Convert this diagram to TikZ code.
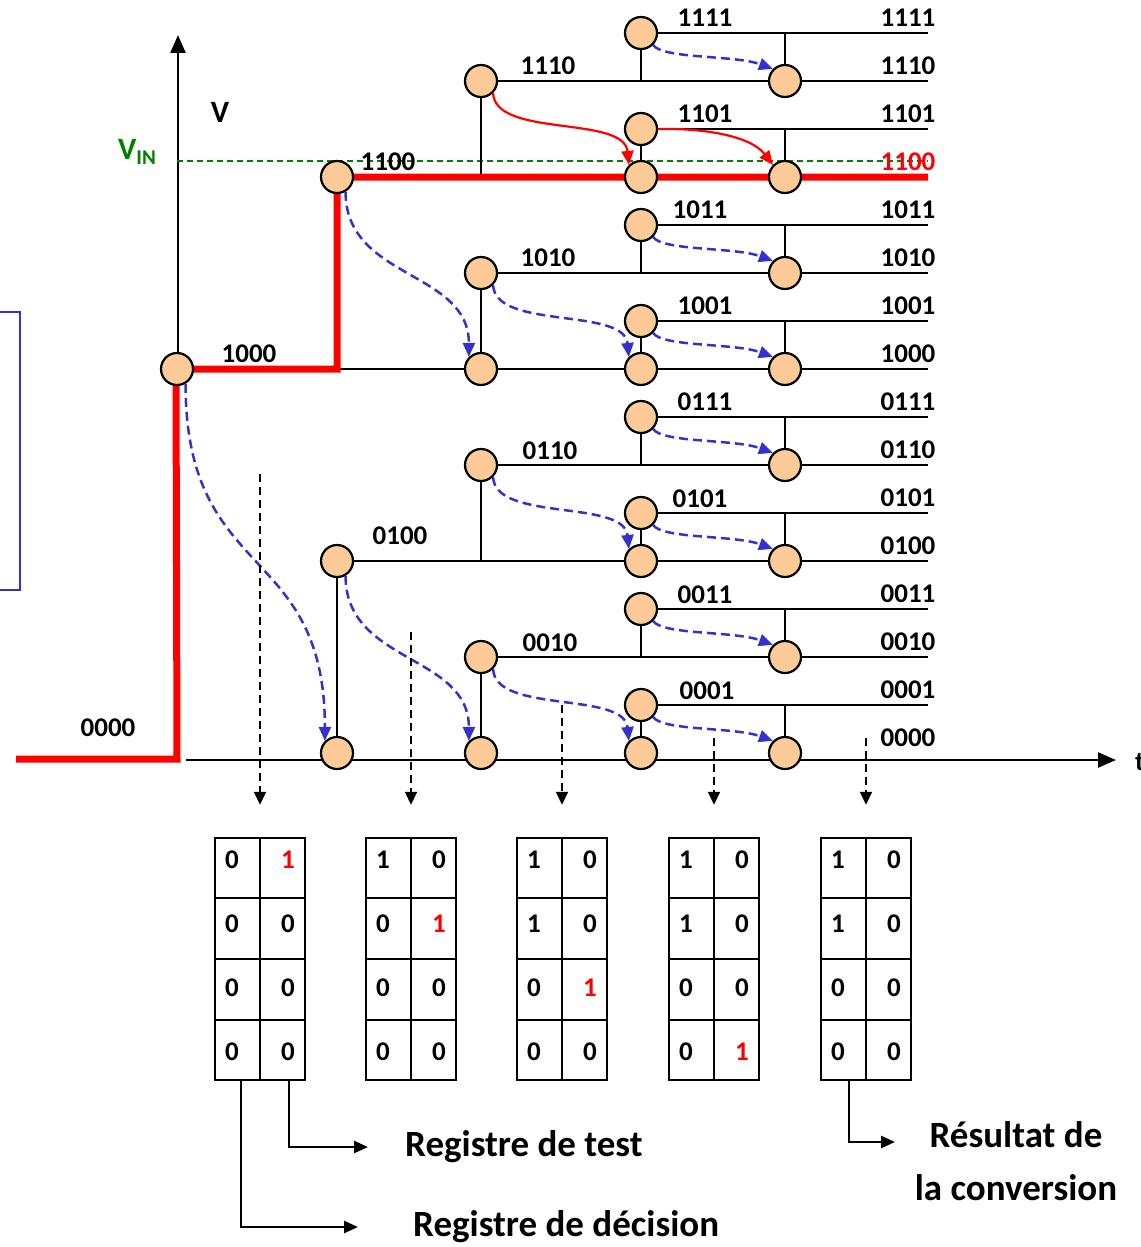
\documentclass[tikz,border=0pt]{standalone}
\usepackage{fontspec}
\setmainfont{Carlito}
\usetikzlibrary{arrows.meta,calc,backgrounds}
\definecolor{Peach}{RGB}{251,202,150}
\definecolor{StepRed}{RGB}{255,0,0}
\definecolor{TryBlue}{RGB}{51,51,204}
\definecolor{VinGreen}{RGB}{0,128,0}
\newcommand{\hotbit}{\textcolor{StepRed}{1}}
\tikzset{
  >=Triangle,
  wire/.style={draw=black,line width=2.5pt},
  stage/.style={circle,draw=black,line width=2.2pt,fill=Peach,minimum size=32pt,inner sep=0pt},
  lbl/.style={font=\fontsize{27}{30}\selectfont\bfseries,inner sep=0pt},
  redpath/.style={draw=StepRed,line width=7pt},
  try/.style={-{Triangle[length=14pt,width=12pt]},draw=TryBlue,line width=2.5pt,dash pattern=on 9pt off 5pt},
  keep/.style={-{Triangle[length=14pt,width=12pt]},draw=StepRed,line width=2.2pt},
  probe/.style={-{Triangle[length=13pt,width=12pt]},line width=2pt,dash pattern=on 8pt off 5pt,shorten >=32pt},
  axisline/.style={-{Triangle[length=18pt,width=15pt]},line width=2.5pt},
  register/.style={draw=black,line width=2.5pt,minimum width=90pt,minimum height=242pt,inner sep=0pt},
  bit/.style={font=\fontsize{27}{28}\selectfont\bfseries,inner sep=0pt},
  pointer/.style={-{Triangle[length=14pt,width=12pt]},line width=2.5pt},
  caption/.style={font=\fontsize{37}{53}\selectfont\bfseries,align=center,inner sep=0pt}
}
\begin{document}
\begin{tikzpicture}[x=1pt,y=-1pt]
  \useasboundingbox (0,0) rectangle (1140,1247);
  % stages of the search
  \node[stage] (n1-8) at (177,369) {};
  \foreach \k in {12,4,0} \node[stage] (n2-\k) at (337,{753-48*\k}) {};
  \foreach \k in {14,10,8,6,2,0} \node[stage] (n3-\k) at (481,{753-48*\k}) {};
  \foreach \k in {15,13,12,11,9,8,7,5,4,3,1,0} \node[stage] (n4-\k) at (641,{753-48*\k}) {};
  \foreach \k in {14,12,...,0} \node[stage] (n5-\k) at (785,{753-48*\k}) {};
  \foreach \k in {0,...,15} \coordinate (e\k) at (928,{753-48*\k});
  \coordinate (o) at (178,759);
  \coordinate (vtop) at (178,35);
  \coordinate (t0) at (186,760);
  \coordinate (tend) at (1116,760);
  \coordinate (start) at (16,759);
  \coordinate (vin0) at (177,161);
  \coordinate (vin1) at (928,161);
  \begin{scope}[on background layer]
    \draw[axisline] (o) -- (vtop);
    \draw[axisline] (t0) -- (tend);
    \draw[VinGreen,line width=1.5pt,dash pattern=on 6pt off 4pt] (vin0) -- (vin1);
    \foreach \k in {1,3,...,15} {
      \pgfmathtruncatemacro\j{\k-1}
      \draw[wire] (n4-\k) -- (e\k);
      \draw[wire] (n4-\k) -- (n4-\k |- e\j);
      \draw[wire] (n5-\j) -- (n5-\j |- e\k);
    }
    \foreach \k in {14,10,6,2} {
      \pgfmathtruncatemacro\j{\k-2}
      \draw[wire] (n3-\k) -- (e\k);
      \draw[wire] (n3-\k) -- (n3-\k |- e\j);
    }
    \draw[wire] (n1-8) -- (e8);
    \draw[wire] (n2-4) -- (e4);
    \draw[wire] (n2-4) -- (n2-0);
    \draw[redpath] (start) -- ([xshift=-1pt]o) -- ([xshift=-1pt]n1-8.center) -- (n1-8.center -| n2-12) -- (n2-12.center) -- (e12);
  \end{scope}
  % codes
  \foreach \k/\x/\y/\t in {15/705/18/1111, 14/548/66/1110, 13/705/114/1101, 12/388/162/1100,
      11/700/210/1011, 10/548/258/1010, 9/705/306/1001, 8/249/354/1000,
      7/705/402/0111, 6/550/451/0110, 5/700/499/0101, 4/400/536/0100,
      3/705/595/0011, 2/550/643/0010, 1/707/691/0001, 0/108/728/0000}
    \node[lbl] (l\k) at (\x,\y) {\t};
  \foreach \k/\t in {15/1111,14/1110,13/1101,11/1011,10/1010,9/1001,8/1000,7/0111,
      6/0110,5/0101,4/0100,3/0011,2/0010,1/0001,0/0000}
    \node[lbl] (r\k) at (908,{738-48*\k}) {\t};
  \node[lbl,text=StepRed] (r12) at (908,162) {1100};
  \node[lbl,font=\fontsize{31}{31}\selectfont\bfseries] (vlab) at (220,112) {V};
  \node[lbl,text=VinGreen,font=\fontsize{31}{31}\selectfont\bfseries] (vinlab) at (137,152)
    {V\raisebox{-5pt}{\fontsize{21}{21}\selectfont IN}};
  \node[lbl,anchor=west] (tlab) at (1135,762) {t};
  \node[draw=TryBlue,line width=2pt,minimum width=30pt,minimum height=278pt,inner sep=0pt] (frame) at (5,451) {};
  % comparisons
  \foreach \k in {15,11,9,7,5,3,1} {
    \pgfmathtruncatemacro\j{\k-1}
    \draw[try] (n4-\k.-45) .. controls +(10,14) and +(-38,-14) .. (n5-\j.135);
  }
  \draw[keep] (n4-13.east) .. controls +(42,-1) and +(-23,-30) .. (n5-12.135);
  \foreach \k in {10,6,2} {
    \pgfmathtruncatemacro\j{\k-2}
    \draw[try] (n3-\k.-45) .. controls +(2,45) and +(-5,-50) .. (n4-\j.135);
  }
  \draw[keep] (n3-14.-45) .. controls +(2,45) and +(-5,-50) .. (n4-12.135);
  \draw[try] (n2-12.-60) .. controls +(0,88) and +(0,-87) .. (n3-8.135);
  \draw[try] (n2-4.-60) .. controls +(0,88) and +(0,-87) .. (n3-0.135);
  \draw[try] (n1-8.-60) .. controls +(0,200) and +(0,-200) .. (n2-0.135);
  % registers
  \foreach \i/\x in {1/260,2/411,3/562,4/714,5/866} {
    \node[register] (reg\i) at (\x,959) {};
    \draw[wire] (reg\i.north) -- (reg\i.south);
    \foreach \f in {0.25,0.5,0.75}
      \draw[wire] ($(reg\i.north west)!\f!(reg\i.south west)$) -- ($(reg\i.north east)!\f!(reg\i.south east)$);
  }
  \foreach \i/\y in {1/474,2/632,3/705,4/738,5/738} {
    \coordinate (pt\i) at (reg\i.north |- 0,\y);
    \draw[probe] (pt\i) -- (reg\i.north);
  }
  \foreach \i/\r/\a/\b in {1/1/0/\hotbit, 1/2/0/0, 1/3/0/0, 1/4/0/0,
      2/1/1/0, 2/2/0/\hotbit, 2/3/0/0, 2/4/0/0,
      3/1/1/0, 3/2/1/0, 3/3/0/\hotbit, 3/4/0/0,
      4/1/1/0, 4/2/1/0, 4/3/0/0, 4/4/0/\hotbit,
      5/1/1/0, 5/2/1/0, 5/3/0/0, 5/4/0/0} {
    \node[bit] (b\i-\r-l) at ($(reg\i.center)+(-28,{64*\r-163})$) {\a};
    \node[bit] (b\i-\r-r) at ($(reg\i.center)+(28,{64*\r-163})$) {\b};
  }
  % legend
  \node[caption,anchor=west] (tst) at (405,1147) {Registre de test};
  \node[caption,anchor=west] (dec) at (413,1227) {Registre de décision};
  \node[caption] (res) at (1016,1161) {Résultat de\\la conversion};
  \coordinate (resin) at (895,1142);
  \draw[pointer] ([xshift=-19pt]reg1.south) |- ([xshift=-55pt]dec.west);
  \draw[pointer] ([xshift=29pt]reg1.south) |- ([xshift=-37pt]tst.west);
  \draw[pointer] ([xshift=-17pt]reg5.south) |- (resin);
\end{tikzpicture}
\end{document}
